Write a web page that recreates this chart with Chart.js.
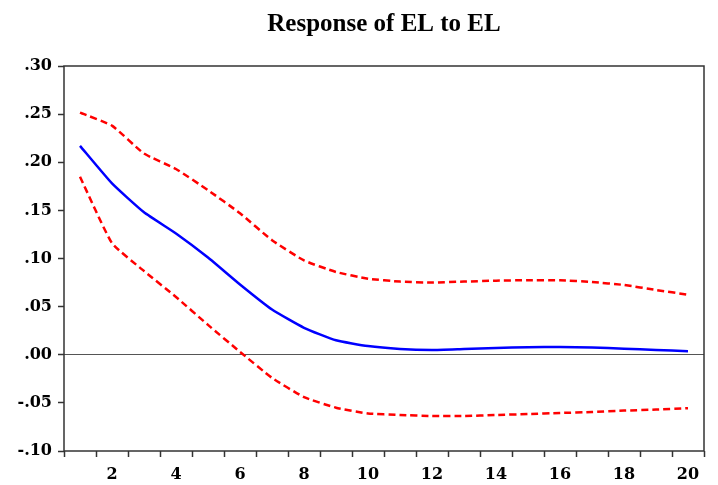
<!DOCTYPE html>
<html>
<head>
<meta charset="utf-8">
<script src="https://cdn.jsdelivr.net/npm/chart.js@4/dist/chart.umd.min.js"></script>
<style>
    html, body { margin: 0; padding: 0; background: #fff; }
    #chartBox { width: 718px; height: 485px; }
</style>
</head>
<body>
<div id="chartBox"><canvas id="irfChart"></canvas></div>
<script>
// periods 1..20
const periods = ["1", "2", "3", "4", "5", "6", "7", "8", "9", "10",
    "11", "12", "13", "14", "15", "16", "17", "18", "19", "20"];

const response = [0.217, 0.178, 0.148, 0.126, 0.101, 0.073, 0.047, 0.028, 0.015, 0.009,
    0.006, 0.005, 0.006, 0.007, 0.0078, 0.008, 0.0075, 0.0063, 0.005, 0.0036];

const upperBand = [0.2515, 0.238, 0.209, 0.193, 0.171, 0.147, 0.119, 0.098, 0.086, 0.079,
    0.076, 0.075, 0.076, 0.077, 0.0775, 0.0774, 0.0756, 0.0725, 0.0673, 0.0624];

const lowerBand = [0.185, 0.116, 0.087, 0.060, 0.031, 0.003, -0.024, -0.044, -0.055, -0.061,
    -0.0626, -0.0636, -0.0636, -0.0626, -0.0616, -0.0605, -0.0595, -0.058, -0.057, -0.0555];

const yTickLabels = { "0.3": ".30", "0.25": ".25", "0.2": ".20", "0.15": ".15", "0.1": ".10",
    "0.05": ".05", "0": ".00", "-0.05": "-.05", "-0.1": "-.10" };

const chartTitle = "Response of EL to EL";

// frame around plot area + title centred over the plot area
const frameBox = {
    id: "frameBox",
    afterDraw(chart) {
        const { ctx, chartArea } = chart;
        ctx.save();
        ctx.strokeStyle = "#333";
        ctx.lineWidth = 1.5;
        ctx.strokeRect(chartArea.left, chartArea.top, chartArea.right - chartArea.left, chartArea.bottom - chartArea.top);
        ctx.fillStyle = "#000";
        ctx.font = "bold 25px 'Liberation Serif'";
        ctx.textAlign = "center";
        ctx.textBaseline = "alphabetic";
        ctx.fillText(chartTitle, (chartArea.left + chartArea.right) / 2, 31);
        ctx.restore();
    }
};

function lineSet(label, data, color, dashed) {
    return {
        label: label,
        data: data,
        borderColor: color,
        borderWidth: 2.5,
        borderDash: dashed ? [7, 4] : [],
        pointRadius: 0,
        tension: 0.15,
        fill: false
    };
}

new Chart(document.getElementById("irfChart").getContext("2d"), {
    type: "line",
    data: {
        labels: periods,
        datasets: [
            lineSet("Upper", upperBand, "#ff0000", true),
            lineSet("Lower", lowerBand, "#ff0000", true),
            lineSet("Response", response, "#0000ff", false)
        ]
    },
    options: {
        responsive: true,
        maintainAspectRatio: false,
        animation: false,
        layout: { padding: { left: 0, right: 14, top: 66, bottom: 0 } },
        plugins: {
            legend: { display: false },
            tooltip: { enabled: false },
            title: { display: false }
        },
        scales: {
            x: {
                offset: true,
                afterFit: s => { s.height = 34; },
                grid: {
                    offset: true,
                    drawOnChartArea: false,
                    tickLength: 6,
                    tickColor: "#333",
                    tickWidth: 1.5
                },
                border: { display: false },
                ticks: {
                    autoSkip: false,
                    maxRotation: 0,
                    color: "#000",
                    padding: 8,
                    font: { family: "DejaVu Serif", size: 16, weight: "bold" },
                    callback: function (value, index) {
                        return index % 2 === 1 ? periods[index] : "";
                    }
                }
            },
            y: {
                min: -0.1,
                max: 0.3,
                afterFit: s => { s.width = 64; },
                grid: {
                    color: ctx => (ctx.tick && ctx.tick.value === 0 ? "#555" : "transparent"),
                    lineWidth: 1,
                    tickLength: 6,
                    tickColor: "#333",
                    tickWidth: 1.5
                },
                border: { display: false },
                ticks: {
                    stepSize: 0.05,
                    color: "#000",
                    padding: 6,
                    font: { family: "DejaVu Serif", size: 16, weight: "bold" },
                    callback: function (value) {
                        const key = String(Math.round(value * 100) / 100);
                        return yTickLabels[key] !== undefined ? yTickLabels[key] : "";
                    }
                }
            }
        }
    },
    plugins: [frameBox]
});
</script>
</body>
</html>
